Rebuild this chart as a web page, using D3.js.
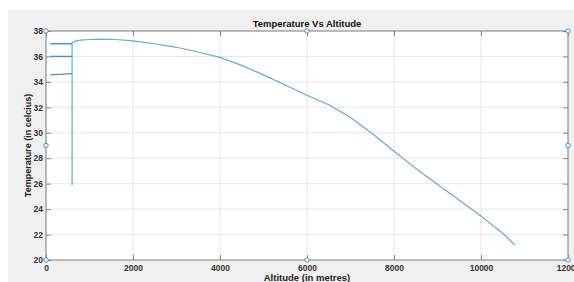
<!DOCTYPE html>
<html>
<head>
<meta charset="utf-8">
<script src="https://cdn.jsdelivr.net/npm/d3@7"></script>
<style>
  body { margin: 0; background: #fff; }
  svg { display: block; font-family: 'Liberation Sans', Arial, sans-serif; }
</style>
</head>
<body>
<svg id="vis" width="574" height="282"></svg>
<script>
(function () {

  'use strict';

  // Data
  var xTicks = [0, 2000, 4000, 6000, 8000, 10000, 12000];
  var yTicks = [20, 22, 24, 26, 28, 30, 32, 34, 36, 38];

  var altitude = [600, 600, 700, 800, 1000, 1300, 1600, 2000, 2500, 3000, 3500,
    4000, 4500, 5000, 5500, 6000, 6500, 7000, 7500, 8000, 8500, 9000, 9500,
    10000, 10500, 10780];
  var temperature = [25.9, 37.1, 37.22, 37.29, 37.33, 37.36, 37.33, 37.22, 37.0,
    36.72, 36.35, 35.93, 35.3, 34.55, 33.75, 32.95, 32.2, 31.2, 29.95, 28.55,
    27.2, 25.95, 24.7, 23.45, 22.1, 21.18];

  // short horizontal stubs near the start
  var stubs = [
    [[100, 37.0], [600, 37.0]],
    [[100, 36.0], [600, 36.0]],
    [[100, 34.55], [600, 34.65]]
  ];

  // small edit handles round the axes
  var handles = [
    [0, 38], [6000, 38], [12000, 38],
    [0, 29], [12000, 29],
    [0, 20], [6000, 20], [12000, 20]
  ];

  // Settings
  var margin = { top: 31, right: 6, bottom: 22, left: 46 };
  var width = 574 - margin.left - margin.right;
  var height = 282 - margin.top - margin.bottom;
  var lineColor = '#62abd2';

  var svg = d3.select('#vis');

  // figure background
  svg.append('rect')
      .attr('x', 8)
      .attr('y', 10)
      .attr('width', 574)
      .attr('height', 282)
      .attr('fill', '#f0f0f0');

  var x = d3.scaleLinear().domain([0, 12000]).range([0, width]);
  var y = d3.scaleLinear().domain([20, 38]).range([height, 0]);

  var g = svg.append('g')
      .attr('transform', 'translate(' + margin.left + ',' + margin.top + ')');

  g.append('rect')
      .attr('width', width)
      .attr('height', height)
      .attr('fill', '#fff');

  // grid
  g.append('g')
    .selectAll('line')
      .data(xTicks.slice(1, -1))
      .enter()
    .append('line')
      .attr('x1', function (d) { return x(d); })
      .attr('x2', function (d) { return x(d); })
      .attr('y1', 0)
      .attr('y2', height)
      .attr('stroke', '#e6e6e6');

  g.append('g')
    .selectAll('line')
      .data(yTicks.slice(1, -1))
      .enter()
    .append('line')
      .attr('x1', 0)
      .attr('x2', width)
      .attr('y1', function (d) { return y(d); })
      .attr('y2', function (d) { return y(d); })
      .attr('stroke', '#e6e6e6');

  // axes with inward ticks on all four sides
  function styleAxis(sel) {
    sel.select('.domain').remove();
    sel.selectAll('.tick line').attr('stroke', '#8a8a8a');
    sel.selectAll('text')
        .attr('fill', '#333')
        .attr('font-size', 8.5)
        .attr('font-weight', 'bold');
  }

  g.append('g')
      .attr('transform', 'translate(0,' + height + ')')
      .call(d3.axisBottom(x).tickValues(xTicks).tickFormat(d3.format('d'))
        .tickSizeInner(-5).tickSizeOuter(0).tickPadding(5))
      .call(styleAxis);

  g.append('g')
      .call(d3.axisTop(x).tickValues(xTicks).tickFormat('')
        .tickSizeInner(-5).tickSizeOuter(0))
      .call(styleAxis);

  g.append('g')
      .call(d3.axisLeft(y).tickValues(yTicks).tickFormat(d3.format('d'))
        .tickSizeInner(-5).tickSizeOuter(0).tickPadding(3))
      .call(styleAxis);

  g.append('g')
      .attr('transform', 'translate(' + width + ',0)')
      .call(d3.axisRight(y).tickValues(yTicks).tickFormat('')
        .tickSizeInner(-5).tickSizeOuter(0))
      .call(styleAxis);

  g.append('rect')
      .attr('width', width)
      .attr('height', height)
      .attr('fill', 'none')
      .attr('stroke', '#7a7a7a')
      .attr('stroke-width', 1);

  // data
  var line = d3.line()
      .x(function (d) { return x(d[0]); })
      .y(function (d) { return y(d[1]); });

  g.append('path')
      .datum(d3.zip(altitude, temperature))
      .attr('d', line)
      .attr('fill', 'none')
      .attr('stroke', lineColor)
      .attr('stroke-width', 1.2)
      .attr('stroke-linejoin', 'round');

  g.append('g')
    .selectAll('path')
      .data(stubs)
      .enter()
    .append('path')
      .attr('d', line)
      .attr('fill', 'none')
      .attr('stroke', '#3f95cc')
      .attr('stroke-width', 1.4);

  g.append('g')
    .selectAll('circle')
      .data(handles)
      .enter()
    .append('circle')
      .attr('cx', function (d) { return x(d[0]); })
      .attr('cy', function (d) { return y(d[1]); })
      .attr('r', 2.2)
      .attr('fill', '#fff')
      .attr('stroke', '#4a90c0')
      .attr('stroke-width', 1);

  // texts
  svg.append('text')
      .attr('x', margin.left + width / 2)
      .attr('y', 27)
      .attr('text-anchor', 'middle')
      .attr('font-size', 9.5)
      .attr('font-weight', 'bold')
      .attr('fill', '#111')
      .text('Temperature Vs Altitude');

  svg.append('text')
      .attr('x', margin.left + width / 2)
      .attr('y', 281)
      .attr('text-anchor', 'middle')
      .attr('font-size', 9.5)
      .attr('font-weight', 'bold')
      .attr('fill', '#222')
      .text('Altitude (in metres)');

  svg.append('text')
      .attr('transform', 'translate(31,' + (margin.top + height / 2) + ') rotate(-90)')
      .attr('text-anchor', 'middle')
      .attr('font-size', 9)
      .attr('font-weight', 'bold')
      .attr('fill', '#222')
      .text('Temperature (in celcius)');
})();
</script>
</body>
</html>
